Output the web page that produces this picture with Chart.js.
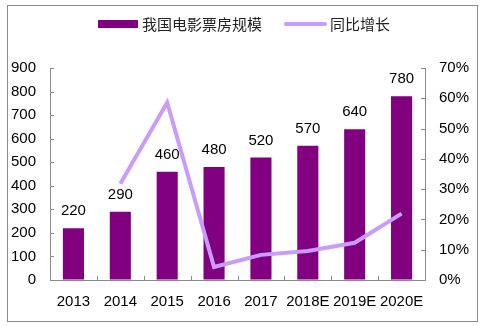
<!DOCTYPE html>
<html>
<head>
<meta charset="utf-8">
<script src="https://cdn.jsdelivr.net/npm/chart.js@4.4.1/dist/chart.umd.min.js"></script>
<style>
  html, body { margin: 0; padding: 0; background: #fff; }
  #wrap { position: relative; width: 486px; height: 326px; }
  #frame { position: absolute; left: 7px; top: 5px; width: 469px; height: 315px; border: 1px solid #8a8a8a; }
  #boxOffice { position: absolute; left: 0; top: 0; }
</style>
</head>
<body>
<div id="wrap">
  <div id="frame"></div>
  <canvas id="boxOffice" width="486" height="326"></canvas>
</div>
<script>
// ---- dados ----
const anos = ["2013", "2014", "2015", "2016", "2017", "2018E", "2019E", "2020E"];
const bilheteria = [220, 290, 460, 480, 520, 570, 640, 780];
const crescimento = [null, 0.318, 0.586, 0.043, 0.083, 0.096, 0.123, 0.219];
const ticksEsq = [0, 100, 200, 300, 400, 500, 600, 700, 800, 900];
const ticksDir = [0, 0.1, 0.2, 0.3, 0.4, 0.5, 0.6, 0.7];

const corBarra = "#800080";
const corLinha = "#C99BFF";
const corEixo = "#8a8a8a";
const fonteNum = "Liberation Sans, Arial, sans-serif";
const fonteCJK = "'Noto Sans CJK SC', sans-serif";

// rótulos de valor acima das barras
const rotulosBarras = {
  id: "rotulosBarras",
  afterDatasetsDraw(chart) {
    const { ctx } = chart;
    const meta = chart.getDatasetMeta(0);
    ctx.save();
    ctx.font = "15px " + fonteNum;
    ctx.fillStyle = "#000";
    ctx.textAlign = "center";
    ctx.textBaseline = "alphabetic";
    meta.data.forEach((bar, i) => {
      ctx.fillText(String(bilheteria[i]), bar.x, bar.y - 13);
    });
    ctx.restore();
  },
};

// marcas dos eixos voltadas para dentro
const marcasInternas = {
  id: "marcasInternas",
  afterDraw(chart) {
    const { ctx, scales } = chart;
    const area = chart.chartArea;
    ctx.save();
    ctx.strokeStyle = corEixo;
    ctx.lineWidth = 1;
    ctx.beginPath();
    ticksEsq.forEach((v) => {
      const y = Math.round(scales.y.getPixelForValue(v)) + 0.5;
      ctx.moveTo(area.left, y);
      ctx.lineTo(area.left + 4, y);
    });
    ticksDir.forEach((v) => {
      const y = Math.round(scales.y1.getPixelForValue(v)) + 0.5;
      ctx.moveTo(area.right, y);
      ctx.lineTo(area.right - 4, y);
    });
    const passo = (area.right - area.left) / anos.length;
    for (let i = 1; i < anos.length; i++) {
      const x = Math.round(area.left + passo * i) + 0.5;
      ctx.moveTo(x, area.bottom);
      ctx.lineTo(x, area.bottom - 4);
    }
    ctx.stroke();
    ctx.restore();
  },
};

// legenda desenhada à mão (retângulo para barras, traço para a linha)
const legendaTopo = {
  id: "legendaTopo",
  afterDraw(chart) {
    const { ctx } = chart;
    const ds = chart.data.datasets;
    const yc = 24;
    ctx.save();
    ctx.font = "15px " + fonteCJK;
    ctx.textBaseline = "middle";
    ctx.fillStyle = corBarra;
    ctx.fillRect(98, yc - 4, 40, 8);
    ctx.fillStyle = "#222";
    ctx.fillText(ds[0].label, 142, yc);
    ctx.strokeStyle = corLinha;
    ctx.lineWidth = 4;
    ctx.lineCap = "round";
    ctx.beginPath();
    ctx.moveTo(286, yc);
    ctx.lineTo(325, yc);
    ctx.stroke();
    ctx.fillText(ds[1].label, 330, yc);
    ctx.restore();
  },
};

new Chart(document.getElementById("boxOffice"), {
  data: {
    labels: anos,
    datasets: [
      {
        type: "bar",
        label: "我国电影票房规模",
        data: bilheteria,
        backgroundColor: corBarra,
        yAxisID: "y",
        order: 2,
        categoryPercentage: 1,
        barPercentage: 0.45,
      },
      {
        type: "line",
        label: "同比增长",
        data: crescimento,
        borderColor: corLinha,
        borderWidth: 4,
        pointRadius: 0,
        tension: 0,
        yAxisID: "y1",
        order: 1,
      },
    ],
  },
  options: {
    responsive: false,
    animation: false,
    devicePixelRatio: 1,
    layout: { padding: { top: 68, left: 0, right: 0, bottom: 0 } },
    plugins: {
      legend: { display: false },
      tooltip: { enabled: false },
    },
    scales: {
      x: {
        offset: true,
        grid: { display: false, drawTicks: false },
        border: { color: corEixo },
        ticks: { color: "#000", font: { family: fonteNum, size: 15 }, padding: 13, maxRotation: 0, autoSkip: false },
        afterFit: (s) => { s.height = 46; },
      },
      y: {
        position: "left",
        min: 0,
        max: 900,
        grid: { drawOnChartArea: false, drawTicks: false },
        border: { color: corEixo },
        ticks: { stepSize: 100, color: "#000", font: { family: fonteNum, size: 15 }, padding: 14 },
        afterFit: (s) => { s.width = 50; },
      },
      y1: {
        position: "right",
        min: 0,
        max: 0.7,
        grid: { drawOnChartArea: false, drawTicks: false },
        border: { color: corEixo },
        ticks: {
          stepSize: 0.1,
          color: "#000",
          font: { family: fonteNum, size: 15 },
          padding: 14,
          callback: (v) => Math.round(v * 100) + "%",
        },
        afterFit: (s) => { s.width = 61; },
      },
    },
  },
  plugins: [rotulosBarras, marcasInternas, legendaTopo],
});
</script>
</body>
</html>
